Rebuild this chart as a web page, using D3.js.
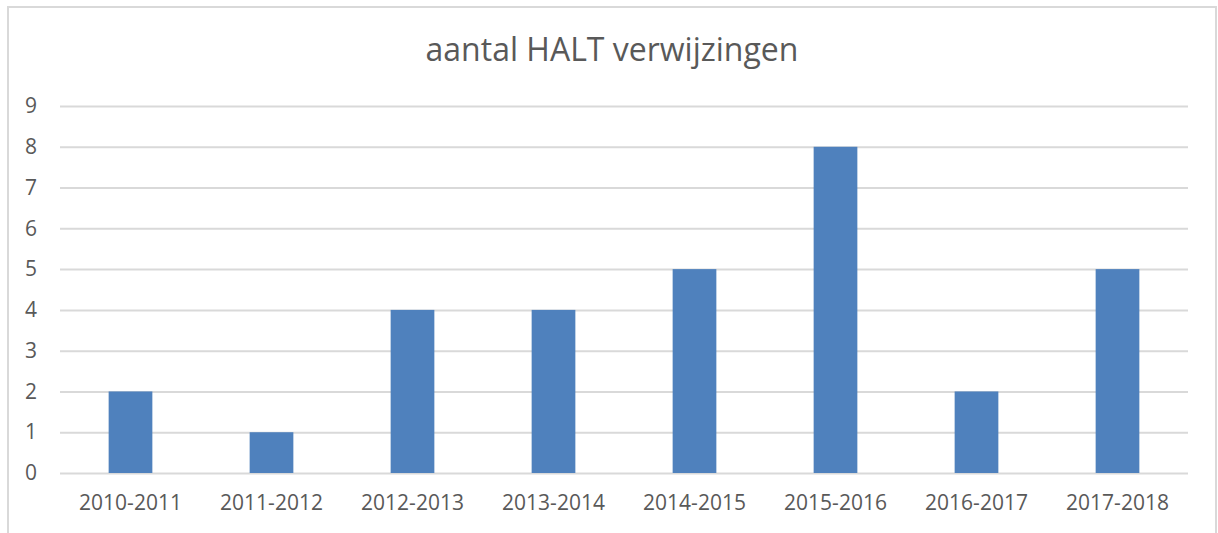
<!DOCTYPE html>
<html>
<head>
<meta charset="utf-8">
<style>
  body { margin: 0; background: white; font-family: "Open Sans", sans-serif; }
  svg { display: block; }
</style>
<script src="https://cdn.jsdelivr.net/npm/d3@7"></script>
</head>
<body>
<svg id="chart"></svg>
<script>
  // data
  let title = "aantal HALT verwijzingen"
  let seasons = ["2010-2011", "2011-2012", "2012-2013", "2013-2014", "2014-2015", "2015-2016", "2016-2017", "2017-2018"]
  let counts = [2, 1, 4, 4, 5, 8, 2, 5]
  let yTicks = [0, 1, 2, 3, 4, 5, 6, 7, 8, 9]

  let width = 1218, height = 533
  let margin = {top: 106, right: 30, bottom: 60, left: 60}
  let svg = d3.select("#chart").attr("width", width).attr("height", height)

  // outer chart frame (bottom edge falls outside the crop)
  svg.append("rect")
     .attr("x", 8).attr("y", 7)
     .attr("width", 1208).attr("height", 560)
     .attr("fill", "white")
     .attr("stroke", "#d9d9d9")
     .attr("stroke-width", 2)

  let x = d3.scaleBand()
            .domain(seasons)
            .range([margin.left, width - margin.right])
            .paddingInner(0.69)
            .paddingOuter(0.345)
  let y = d3.scaleLinear()
            .domain([0, 9])
            .range([473, margin.top])

  // gridlines + y labels
  let yAxis = d3.axisLeft(y)
                .tickValues(yTicks)
                .tickSize(-(width - margin.right - margin.left))
                .tickPadding(23)
  let gy = svg.append("g")
              .attr("transform", `translate(${margin.left},0)`)
              .call(yAxis)
  gy.select(".domain").remove()
  gy.selectAll(".tick line").attr("stroke", "#d9d9d9").attr("stroke-width", 2)
  gy.selectAll(".tick text")
    .attr("fill", "#595959")
    .style("font-family", "Open Sans")
    .style("font-size", "21px")

  svg.append("g").selectAll("rect")
     .data(counts)
     .enter().append("rect")
     .attr("x", (d, i) => x(seasons[i]))
     .attr("width", x.bandwidth())
     .attr("y", d => y(d))
     .attr("height", d => y(0) - y(d))
     .attr("fill", "#4f81bd")

  // x labels
  let xAxis = d3.axisBottom(x).tickSize(0).tickPadding(22)
  let gx = svg.append("g")
              .attr("transform", `translate(0,${y(0)})`)
              .call(xAxis)
  gx.select(".domain").remove()
  gx.selectAll(".tick text")
    .attr("fill", "#595959")
    .style("font-family", "Open Sans")
    .style("font-size", "21px")

  svg.append("text")
     .attr("x", 612)
     .attr("y", 61)
     .attr("text-anchor", "middle")
     .attr("fill", "#595959")
     .style("font-family", "Open Sans")
     .style("font-size", "32px")
     .text(title)
</script>
</body>
</html>
